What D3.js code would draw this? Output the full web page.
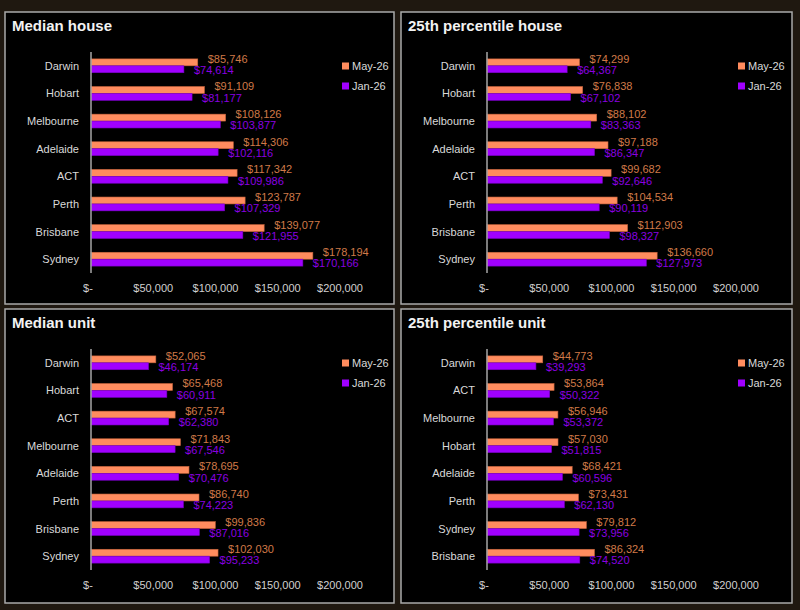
<!DOCTYPE html>
<meta charset="utf-8">
<html>
<head>
<style>
  body { margin: 0; background: #1f1810; }
  text { font-family: "Liberation Sans", Arial, sans-serif; }
</style>
<script src="https://d3js.org/d3.v7.min.js"></script>
</head>
<body>
<div id="chart"></div>
<script>
// data
var titles = ["Median house", "25th percentile house", "Median unit", "25th percentile unit"];
var series = ["May-26", "Jan-26"];
var tickValues = [0, 50000, 100000, 150000, 200000];

var citiesMedianHouse = ["Darwin", "Hobart", "Melbourne", "Adelaide", "ACT", "Perth", "Brisbane", "Sydney"];
var mayMedianHouse = [85746, 91109, 108126, 114306, 117342, 123787, 139077, 178194];
var janMedianHouse = [74614, 81177, 103877, 102116, 109986, 107329, 121955, 170166];

var citiesP25House = ["Darwin", "Hobart", "Melbourne", "Adelaide", "ACT", "Perth", "Brisbane", "Sydney"];
var mayP25House = [74299, 76838, 88102, 97188, 99682, 104534, 112903, 136660];
var janP25House = [64367, 67102, 83363, 86347, 92646, 90119, 98327, 127973];

var citiesMedianUnit = ["Darwin", "Hobart", "ACT", "Melbourne", "Adelaide", "Perth", "Brisbane", "Sydney"];
var mayMedianUnit = [52065, 65468, 67574, 71843, 78695, 86740, 99836, 102030];
var janMedianUnit = [46174, 60911, 62380, 67546, 70476, 74223, 87016, 95233];

var citiesP25Unit = ["Darwin", "ACT", "Melbourne", "Hobart", "Adelaide", "Perth", "Sydney", "Brisbane"];
var mayP25Unit = [44773, 53864, 56946, 57030, 68421, 73431, 79812, 86324];
var janP25Unit = [39293, 50322, 53372, 51815, 60596, 62130, 73956, 74520];

var panels = [
  {title: titles[0], cities: citiesMedianHouse, may: mayMedianHouse, jan: janMedianHouse, x: 5, y: 12, w: 389, h: 292},
  {title: titles[1], cities: citiesP25House, may: mayP25House, jan: janP25House, x: 401, y: 12, w: 391, h: 292},
  {title: titles[2], cities: citiesMedianUnit, may: mayMedianUnit, jan: janMedianUnit, x: 5, y: 309, w: 389, h: 294},
  {title: titles[3], cities: citiesP25Unit, may: mayP25Unit, jan: janP25Unit, x: 401, y: 309, w: 391, h: 294}
];

var fill = {"May-26": "#ff8c5e", "Jan-26": "#a000ff"};
var edge = {"May-26": "#c8643c", "Jan-26": "#7a00c8"};
var labelColor = {"May-26": "#d07a48", "Jan-26": "#8a00e0"};
var labelDy = {"May-26": -3.6, "Jan-26": 0.8};

var svg = d3.select("#chart").append("svg")
  .attr("width", 800)
  .attr("height", 610);

svg.append("rect").attr("width", 800).attr("height", 610).attr("fill", "#1f1810");

var fmt = d3.format(",");
function money(v) { return v === 0 ? "$-" : "$" + fmt(v); }

panels.forEach(function(p) {
  var g = svg.append("g").attr("transform", "translate(" + p.x + "," + p.y + ")");

  g.append("rect")
    .attr("x", 0).attr("y", 0)
    .attr("width", p.w).attr("height", p.h)
    .attr("fill", "#000")
    .attr("stroke", "#a9a9a9")
    .attr("stroke-width", 1.5);

  g.append("text")
    .attr("x", 7).attr("y", 18.5)
    .attr("fill", "#f2f2f2")
    .style("font-size", "15px")
    .style("font-weight", "bold")
    .text(p.title);

  var x = d3.scaleLinear().domain([0, 200000]).range([86, 335]);
  var y = d3.scaleBand().domain(p.cities).range([40, 261]).paddingInner(0.5).paddingOuter(0.25);
  var sub = d3.scaleBand().domain(series).range([0, y.bandwidth()]);

  // category labels
  g.selectAll(".cat").data(p.cities).enter().append("text")
    .attr("x", x(0) - 12)
    .attr("y", function(d) { return y(d) + y.bandwidth() / 2; })
    .attr("text-anchor", "end")
    .attr("dominant-baseline", "central")
    .attr("fill", "#d9d9d9")
    .style("font-size", "11px")
    .text(function(d) { return d; });

  // tick labels
  g.selectAll(".tick").data(tickValues).enter().append("text")
    .attr("x", function(d) { return d === 0 ? x(d) - 3 : x(d); })
    .attr("y", 276)
    .attr("text-anchor", "middle")
    .attr("dominant-baseline", "central")
    .attr("fill", "#d0d0d0")
    .style("font-size", "11px")
    .text(money);

  var rows = [];
  p.cities.forEach(function(c, i) {
    rows.push({city: c, key: "May-26", v: p.may[i]});
    rows.push({city: c, key: "Jan-26", v: p.jan[i]});
  });

  g.selectAll(".bar").data(rows).enter().append("rect")
    .attr("x", x(0))
    .attr("y", function(d) { return y(d.city) + sub(d.key); })
    .attr("width", function(d) { return x(d.v) - x(0); })
    .attr("height", sub.bandwidth())
    .attr("fill", function(d) { return fill[d.key]; })
    .attr("stroke", function(d) { return edge[d.key]; })
    .attr("stroke-width", 0.6);

  g.selectAll(".lbl").data(rows).enter().append("text")
    .attr("x", function(d) { return x(d.v) + 10; })
    .attr("y", function(d) { return y(d.city) + sub(d.key) + sub.bandwidth() / 2 + labelDy[d.key]; })
    .attr("dominant-baseline", "central")
    .attr("fill", function(d) { return labelColor[d.key]; })
    .style("font-size", "11px")
    .text(function(d) { return money(d.v); });

  // axis line
  g.append("line")
    .attr("x1", x(0)).attr("x2", x(0))
    .attr("y1", 40).attr("y2", 261)
    .attr("stroke", "#a6a6a6")
    .attr("stroke-width", 1.5);

  // legend
  series.forEach(function(s, i) {
    g.append("rect")
      .attr("x", 337).attr("y", 54 + i * 20 - 3.5)
      .attr("width", 7).attr("height", 7)
      .attr("fill", fill[s]);
    g.append("text")
      .attr("x", 347).attr("y", 54 + i * 20)
      .attr("dominant-baseline", "central")
      .attr("fill", "#d9d9d9")
      .style("font-size", "11px")
      .text(s);
  });
});
</script>
</body>
</html>
